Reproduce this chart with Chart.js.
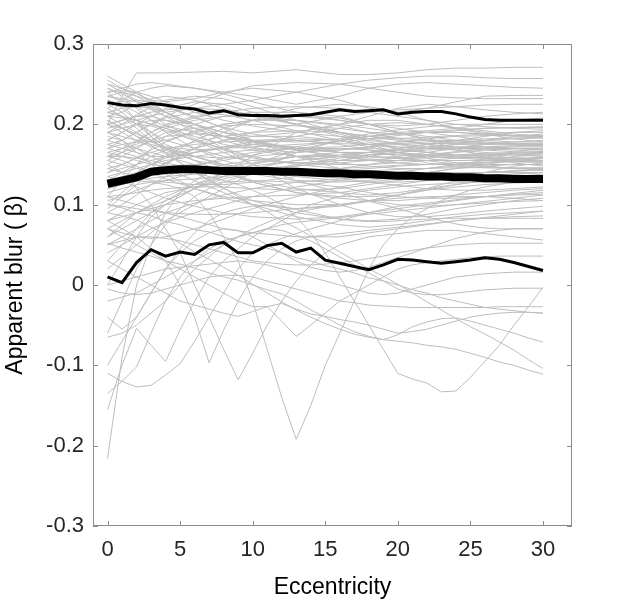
<!DOCTYPE html>
<html>
<head>
<meta charset="utf-8">
<script src="https://cdn.jsdelivr.net/npm/chart.js@4.4.1/dist/chart.umd.min.js"></script>
<style>
html,body{margin:0;padding:0;background:#fff;}
#c{position:absolute;left:0;top:0;}
</style>
</head>
<body>
<canvas id="c" width="633" height="601"></canvas>
<script>
// ---------- DATA ----------
const xTicks = [0, 5, 10, 15, 20, 25, 30];
const yTicks = [-0.3, -0.2, -0.1, 0, 0.1, 0.2, 0.3];
const xLabel = 'Eccentricity';
const yLabel = 'Apparent blur ( \u03B2)';

const ecc = [0,1,2,3,4,5,6,7,8,9,10,11,12,13,14,15,16,17,18,19,20,21,22,23,24,25,26,27,28,29,30];

const upperLine = [0.227,0.224,0.223,0.226,0.224,0.221,0.219,0.214,0.217,0.212,0.211,0.211,0.210,0.211,0.212,0.215,0.218,0.216,0.217,0.218,0.213,0.215,0.216,0.216,0.213,0.209,0.206,0.205,0.205,0.205,0.205];
const meanLine  = [0.126,0.130,0.134,0.141,0.143,0.144,0.144,0.143,0.142,0.142,0.142,0.142,0.141,0.141,0.140,0.139,0.139,0.138,0.138,0.137,0.136,0.136,0.135,0.135,0.134,0.134,0.133,0.133,0.132,0.132,0.132];
const lowerLine = [0.010,0.003,0.028,0.044,0.036,0.041,0.038,0.050,0.053,0.040,0.040,0.049,0.052,0.041,0.046,0.031,0.027,0.023,0.019,0.025,0.032,0.031,0.029,0.027,0.029,0.031,0.034,0.032,0.028,0.023,0.018];

// individual observers, sampled at these eccentricities
const obsX = [0,1,2,3,4,6,8,10,13,16,18,20,22,24,26,28,30];
const observers = [
 [0.200,0.235,0.264,0.264,0.264,0.265,0.266,0.264,0.268,0.262,0.262,0.264,0.268,0.270,0.270,0.271,0.271],
 [0.255,0.245,0.235,0.225,0.215,0.200,0.190,0.180,0.170,0.165,0.160,0.158,0.155,0.150,0.148,0.145,0.145],
 [0.195,0.200,0.205,0.210,0.215,0.220,0.225,0.230,0.240,0.250,0.255,0.258,0.260,0.260,0.258,0.257,0.257],
 [0.240,0.245,0.250,0.252,0.250,0.245,0.240,0.235,0.225,0.235,0.245,0.250,0.252,0.250,0.248,0.246,0.245],
 [0.170,0.180,0.190,0.200,0.210,0.225,0.238,0.248,0.252,0.250,0.245,0.240,0.235,0.233,0.232,0.232,0.232],
 [0.235,0.240,0.235,0.230,0.228,0.232,0.240,0.245,0.240,0.230,0.220,0.215,0.220,0.228,0.235,0.236,0.236],
 [0.220,0.230,0.240,0.245,0.248,0.245,0.238,0.228,0.215,0.205,0.200,0.198,0.200,0.205,0.210,0.213,0.215],
 [0.245,0.238,0.228,0.218,0.210,0.200,0.190,0.185,0.190,0.200,0.210,0.220,0.225,0.222,0.218,0.215,0.213],
 [0.210,0.215,0.225,0.232,0.235,0.230,0.220,0.210,0.200,0.190,0.180,0.175,0.170,0.168,0.165,0.162,0.160],
 [0.180,0.190,0.200,0.210,0.220,0.228,0.225,0.215,0.200,0.190,0.185,0.183,0.180,0.178,0.176,0.175,0.175],
 [0.230,0.225,0.215,0.205,0.198,0.190,0.185,0.180,0.178,0.182,0.188,0.193,0.197,0.200,0.200,0.200,0.200],
 [0.200,0.205,0.210,0.210,0.205,0.195,0.185,0.178,0.170,0.165,0.165,0.168,0.170,0.172,0.172,0.170,0.168],
 [0.190,0.185,0.180,0.178,0.180,0.190,0.200,0.205,0.210,0.205,0.200,0.195,0.190,0.185,0.180,0.178,0.178],
 [0.165,0.170,0.175,0.185,0.195,0.205,0.210,0.210,0.205,0.198,0.190,0.182,0.175,0.168,0.162,0.158,0.155],
 [0.215,0.210,0.200,0.190,0.180,0.170,0.160,0.155,0.152,0.155,0.160,0.165,0.170,0.175,0.180,0.185,0.188],
 [0.150,0.160,0.170,0.180,0.190,0.195,0.198,0.200,0.198,0.195,0.190,0.188,0.190,0.192,0.195,0.196,0.196],
 [0.140,0.150,0.158,0.165,0.170,0.175,0.178,0.180,0.182,0.180,0.175,0.170,0.165,0.160,0.158,0.156,0.155],
 [0.200,0.190,0.180,0.172,0.165,0.160,0.158,0.160,0.165,0.170,0.170,0.168,0.165,0.162,0.160,0.158,0.158],
 [0.175,0.170,0.165,0.160,0.160,0.165,0.172,0.178,0.180,0.175,0.168,0.160,0.152,0.148,0.146,0.145,0.145],
 [0.160,0.165,0.172,0.180,0.185,0.188,0.185,0.178,0.168,0.160,0.155,0.152,0.150,0.150,0.152,0.155,0.158],
 [0.130,0.140,0.150,0.160,0.168,0.178,0.185,0.190,0.192,0.190,0.185,0.180,0.175,0.172,0.170,0.168,0.166],
 [0.225,0.215,0.200,0.185,0.172,0.160,0.150,0.145,0.140,0.142,0.145,0.148,0.150,0.152,0.153,0.153,0.153],
 [0.120,0.130,0.140,0.150,0.158,0.165,0.170,0.172,0.175,0.178,0.182,0.186,0.190,0.193,0.195,0.196,0.197],
 [0.185,0.180,0.170,0.160,0.152,0.145,0.140,0.138,0.140,0.145,0.150,0.155,0.160,0.165,0.168,0.170,0.170],
 [0.170,0.175,0.178,0.175,0.170,0.160,0.150,0.145,0.142,0.140,0.138,0.136,0.135,0.135,0.136,0.138,0.140],
 [0.100,0.115,0.130,0.142,0.152,0.165,0.172,0.175,0.172,0.165,0.160,0.158,0.158,0.160,0.162,0.164,0.165],
 [0.155,0.150,0.145,0.142,0.140,0.140,0.142,0.148,0.155,0.160,0.162,0.163,0.162,0.160,0.158,0.155,0.153],
 [0.230,0.220,0.205,0.190,0.175,0.160,0.148,0.138,0.130,0.128,0.130,0.135,0.140,0.145,0.148,0.150,0.150],
 [0.090,0.100,0.112,0.125,0.135,0.148,0.158,0.165,0.170,0.170,0.168,0.165,0.162,0.160,0.158,0.156,0.155],
 [0.145,0.140,0.135,0.130,0.128,0.125,0.125,0.128,0.135,0.140,0.142,0.144,0.145,0.146,0.146,0.146,0.146],
 [0.210,0.200,0.190,0.180,0.170,0.155,0.140,0.128,0.115,0.108,0.105,0.105,0.108,0.112,0.115,0.118,0.120],
 [0.125,0.128,0.130,0.133,0.135,0.138,0.140,0.140,0.138,0.133,0.128,0.124,0.120,0.118,0.118,0.120,0.122],
 [0.060,0.075,0.090,0.100,0.110,0.125,0.135,0.145,0.155,0.160,0.165,0.170,0.175,0.178,0.180,0.182,0.183],
 [0.110,0.112,0.115,0.118,0.120,0.122,0.122,0.120,0.118,0.120,0.125,0.130,0.135,0.138,0.140,0.142,0.143],
 [0.190,0.180,0.165,0.150,0.138,0.120,0.108,0.100,0.095,0.098,0.105,0.112,0.118,0.122,0.125,0.127,0.128],
 [0.080,0.090,0.100,0.108,0.115,0.122,0.128,0.130,0.128,0.122,0.115,0.110,0.108,0.108,0.110,0.112,0.113],
 [0.240,0.225,0.205,0.185,0.165,0.140,0.120,0.105,0.090,0.082,0.080,0.082,0.088,0.095,0.100,0.105,0.108],
 [0.050,0.060,0.070,0.080,0.090,0.102,0.112,0.120,0.128,0.132,0.135,0.138,0.140,0.140,0.140,0.140,0.140],
 [0.135,0.130,0.122,0.115,0.108,0.098,0.090,0.085,0.082,0.085,0.090,0.095,0.100,0.105,0.110,0.113,0.115],
 [0.100,0.098,0.095,0.092,0.090,0.088,0.088,0.090,0.095,0.100,0.105,0.108,0.110,0.110,0.110,0.108,0.105],
 [0.060,0.070,0.080,0.090,0.100,0.120,0.140,0.160,0.190,0.200,0.205,0.205,0.200,0.195,0.190,0.186,0.183],
 [0.250,0.240,0.230,0.220,0.210,0.190,0.170,0.150,0.120,0.100,0.090,0.085,0.085,0.088,0.092,0.095,0.098],
 [0.020,0.035,0.050,0.065,0.080,0.100,0.120,0.140,0.165,0.180,0.185,0.188,0.190,0.190,0.188,0.186,0.185],
 [0.120,0.125,0.130,0.140,0.150,0.170,0.190,0.205,0.220,0.225,0.222,0.215,0.205,0.195,0.188,0.182,0.178],
 [0.215,0.210,0.205,0.200,0.195,0.180,0.165,0.150,0.130,0.115,0.105,0.100,0.098,0.100,0.102,0.104,0.105],
 [0.170,0.165,0.160,0.152,0.145,0.130,0.115,0.100,0.085,0.075,0.072,0.075,0.080,0.085,0.088,0.090,0.092],
 [0.080,0.085,0.090,0.098,0.105,0.120,0.135,0.150,0.168,0.180,0.185,0.190,0.192,0.195,0.200,0.205,0.208],
 [0.200,0.205,0.210,0.215,0.218,0.220,0.218,0.212,0.200,0.185,0.175,0.165,0.158,0.152,0.148,0.145,0.143],
 [0.140,0.145,0.150,0.155,0.160,0.170,0.180,0.190,0.200,0.210,0.215,0.218,0.220,0.222,0.224,0.225,0.225],
 [0.225,0.228,0.230,0.228,0.222,0.210,0.195,0.180,0.160,0.145,0.138,0.135,0.135,0.137,0.140,0.142,0.143],
 [0.040,0.050,0.060,0.070,0.078,0.090,0.100,0.110,0.122,0.130,0.135,0.140,0.145,0.150,0.155,0.160,0.162],
 [0.160,0.155,0.148,0.140,0.132,0.120,0.110,0.105,0.100,0.100,0.105,0.112,0.120,0.130,0.140,0.148,0.152],
 [0.190,0.195,0.200,0.198,0.192,0.180,0.170,0.160,0.150,0.145,0.140,0.138,0.140,0.145,0.150,0.155,0.160],
 [0.105,0.110,0.118,0.125,0.130,0.140,0.150,0.155,0.160,0.162,0.165,0.170,0.175,0.180,0.185,0.190,0.192],
 [0.245,0.235,0.220,0.205,0.190,0.170,0.155,0.145,0.135,0.130,0.128,0.128,0.130,0.133,0.136,0.138,0.140],
 [0.130,0.135,0.140,0.150,0.160,0.180,0.195,0.205,0.210,0.208,0.200,0.190,0.180,0.170,0.160,0.152,0.148],
 [0.070,0.080,0.090,0.095,0.100,0.105,0.108,0.110,0.112,0.115,0.120,0.125,0.130,0.132,0.134,0.135,0.135],
 [0.180,0.175,0.170,0.165,0.160,0.150,0.140,0.130,0.120,0.115,0.112,0.115,0.120,0.125,0.130,0.133,0.135],
 [0.110,0.105,0.100,0.095,0.090,0.080,0.070,0.065,0.060,0.060,0.065,0.070,0.075,0.080,0.083,0.085,0.086],
 [0.235,0.232,0.228,0.222,0.215,0.200,0.185,0.175,0.168,0.168,0.172,0.178,0.182,0.185,0.186,0.186,0.186],
 [0.260,0.250,0.240,0.228,0.215,0.195,0.180,0.170,0.165,0.168,0.172,0.175,0.176,0.176,0.175,0.174,0.173],
 [0.110,0.130,0.150,0.170,0.185,0.200,0.210,0.215,0.215,0.210,0.200,0.190,0.182,0.176,0.172,0.170,0.168],
 [0.215,0.220,0.222,0.220,0.215,0.200,0.185,0.172,0.160,0.155,0.155,0.158,0.162,0.166,0.170,0.172,0.172],
 [0.175,0.180,0.190,0.200,0.208,0.215,0.212,0.205,0.192,0.180,0.172,0.165,0.160,0.158,0.158,0.158,0.158],
 [0.205,0.195,0.185,0.178,0.172,0.168,0.170,0.175,0.185,0.195,0.200,0.202,0.200,0.196,0.192,0.188,0.185],
 [0.155,0.165,0.178,0.190,0.200,0.210,0.215,0.212,0.200,0.188,0.178,0.170,0.165,0.162,0.162,0.163,0.164],
 [0.220,0.210,0.195,0.180,0.168,0.155,0.148,0.145,0.148,0.155,0.162,0.168,0.172,0.175,0.176,0.176,0.176],
 [0.095,0.110,0.125,0.140,0.152,0.170,0.180,0.185,0.185,0.180,0.175,0.172,0.170,0.170,0.170,0.170,0.170],
 [0.190,0.200,0.212,0.222,0.230,0.235,0.232,0.222,0.205,0.190,0.182,0.176,0.172,0.170,0.168,0.166,0.165],
 [0.250,0.245,0.238,0.230,0.222,0.208,0.196,0.188,0.180,0.176,0.175,0.176,0.178,0.180,0.182,0.183,0.184],
 [0.145,0.150,0.158,0.168,0.178,0.192,0.200,0.205,0.205,0.200,0.195,0.190,0.185,0.180,0.177,0.175,0.174],
 [0.235,0.230,0.222,0.212,0.200,0.182,0.168,0.158,0.152,0.150,0.150,0.152,0.155,0.158,0.160,0.162,0.163],
 [0.165,0.160,0.155,0.150,0.148,0.150,0.155,0.162,0.172,0.180,0.185,0.188,0.190,0.190,0.188,0.186,0.185],
 [0.180,0.190,0.200,0.205,0.205,0.200,0.190,0.180,0.168,0.160,0.158,0.160,0.165,0.170,0.175,0.178,0.180],
 [0.030,0.050,0.070,0.090,0.105,0.125,0.140,0.150,0.160,0.165,0.165,0.162,0.160,0.158,0.156,0.154,0.153],
 [0.000,0.030,0.060,0.085,0.100,0.120,0.132,0.140,0.148,0.152,0.155,0.158,0.160,0.162,0.164,0.165,0.166],
 [0.070,0.065,0.060,0.058,0.060,0.070,0.082,0.095,0.110,0.122,0.128,0.132,0.135,0.138,0.140,0.142,0.143],
 [0.200,0.195,0.188,0.180,0.170,0.155,0.140,0.128,0.115,0.110,0.110,0.112,0.118,0.125,0.130,0.135,0.138],
 [0.160,0.170,0.180,0.190,0.198,0.208,0.215,0.220,0.222,0.220,0.215,0.210,0.205,0.200,0.197,0.195,0.194],
 [0.210,0.208,0.205,0.200,0.195,0.185,0.175,0.168,0.160,0.152,0.148,0.145,0.145,0.148,0.152,0.156,0.158],
 [0.240,0.242,0.240,0.235,0.228,0.215,0.205,0.198,0.190,0.185,0.182,0.182,0.184,0.186,0.188,0.190,0.190],
 [0.135,0.140,0.145,0.150,0.155,0.160,0.165,0.168,0.170,0.172,0.175,0.178,0.180,0.180,0.178,0.176,0.175],
 [0.115,0.120,0.125,0.128,0.130,0.132,0.135,0.140,0.150,0.158,0.162,0.165,0.168,0.170,0.172,0.173,0.174]
];

// observers with irregular curves, sampled at every eccentricity (ecc)
const irregular = [
 [0.120,0.125,0.130,0.128,0.125,0.120,0.110,0.090,0.060,0.030,-0.020,-0.080,-0.140,-0.192,-0.150,-0.100,-0.060,-0.020,0.020,0.050,0.070,0.085,0.095,0.105,0.112,0.118,0.122,0.125,0.128,0.130,0.132],
 [0.160,0.160,0.158,0.155,0.150,0.145,0.140,0.135,0.130,0.125,0.118,0.110,0.100,0.085,0.065,0.040,0.010,-0.020,-0.050,-0.080,-0.110,-0.117,-0.122,-0.133,-0.132,-0.115,-0.095,-0.075,-0.050,-0.027,-0.003],
 [0.090,0.086,0.081,0.072,0.063,0.052,0.041,0.032,0.022,0.012,0.001,-0.010,-0.021,-0.031,-0.040,-0.048,-0.055,-0.061,-0.065,-0.068,-0.070,-0.072,-0.075,-0.077,-0.080,-0.085,-0.090,-0.096,-0.100,-0.106,-0.111],
 [0.205,0.196,0.185,0.174,0.163,0.152,0.141,0.131,0.121,0.110,0.100,0.091,0.080,0.071,0.061,0.052,0.041,0.031,0.020,0.011,0.001,-0.010,-0.021,-0.031,-0.042,-0.052,-0.061,-0.071,-0.081,-0.093,-0.104],
 [0.052,0.046,0.041,0.036,0.030,0.026,0.021,0.015,0.010,0.006,0.000,-0.006,-0.011,-0.020,-0.031,-0.040,-0.050,-0.058,-0.064,-0.068,-0.062,-0.052,-0.046,-0.042,-0.041,-0.045,-0.050,-0.055,-0.060,-0.066,-0.071],
 [-0.216,-0.090,0.000,0.050,0.090,0.115,0.130,0.140,0.145,0.150,0.152,0.155,0.157,0.160,0.160,0.160,0.160,0.158,0.156,0.155,0.155,0.155,0.155,0.155,0.155,0.155,0.155,0.155,0.155,0.155,0.155],
 [-0.155,-0.100,-0.054,-0.075,-0.095,-0.056,-0.020,0.010,0.030,0.045,0.060,0.070,0.080,0.090,0.100,0.105,0.110,0.115,0.118,0.120,0.122,0.124,0.125,0.126,0.127,0.128,0.128,0.128,0.128,0.128,0.128],
 [-0.135,-0.120,-0.102,-0.060,-0.020,0.010,0.030,0.045,0.055,0.060,0.065,0.070,0.075,0.078,0.080,0.082,0.084,0.086,0.088,0.090,0.092,0.094,0.096,0.098,0.100,0.102,0.104,0.106,0.108,0.110,0.112],
 [-0.110,-0.120,-0.127,-0.125,-0.112,-0.098,-0.070,-0.040,-0.010,0.020,0.040,0.050,0.058,0.064,0.070,0.075,0.080,0.085,0.090,0.094,0.098,0.100,0.102,0.104,0.106,0.108,0.110,0.112,0.114,0.116,0.118],
 [0.080,0.070,0.060,0.045,0.030,0.000,-0.040,-0.097,-0.056,-0.020,0.010,0.030,0.045,0.055,0.060,0.062,0.064,0.066,0.068,0.070,0.072,0.074,0.076,0.078,0.080,0.082,0.084,0.086,0.088,0.090,0.092],
 [0.150,0.140,0.120,0.100,0.070,0.040,0.000,-0.040,-0.080,-0.118,-0.085,-0.050,-0.020,0.005,0.025,0.040,0.050,0.055,0.060,0.062,0.064,0.066,0.068,0.068,0.068,0.066,0.064,0.062,0.060,0.058,0.056],
 [0.030,0.020,0.010,0.000,-0.010,-0.020,-0.025,-0.030,-0.035,-0.039,-0.033,-0.027,-0.023,-0.030,-0.036,-0.039,-0.043,-0.046,-0.050,-0.055,-0.060,-0.058,-0.055,-0.050,-0.045,-0.040,-0.037,-0.035,-0.034,-0.034,-0.035],
 [0.070,0.060,0.050,0.040,0.030,0.020,0.010,0.000,-0.010,-0.020,-0.027,-0.027,-0.045,-0.064,-0.050,-0.035,-0.020,-0.010,0.000,0.010,0.020,0.025,0.028,0.030,0.032,0.034,0.035,0.036,0.036,0.036,0.036],
 [0.000,0.005,0.010,0.015,0.020,0.022,0.024,0.026,0.028,0.030,0.028,0.025,0.020,0.015,0.010,0.005,0.000,-0.005,-0.010,-0.012,-0.010,-0.005,0.000,0.005,0.010,0.012,0.014,0.015,0.016,0.016,0.016],
 [-0.020,-0.015,-0.010,0.000,0.010,0.020,0.030,0.040,0.050,0.060,0.065,0.070,0.068,0.062,0.055,0.045,0.035,0.025,0.015,0.005,-0.005,-0.010,-0.012,-0.012,-0.010,-0.008,-0.006,-0.005,-0.004,-0.004,-0.004],
 [-0.005,-0.010,-0.012,-0.010,-0.005,0.000,0.005,0.010,0.012,0.012,0.010,0.005,0.000,-0.005,-0.010,-0.015,-0.020,-0.022,-0.025,-0.026,-0.027,-0.028,-0.028,-0.028,-0.028,-0.028,-0.028,-0.027,-0.027,-0.027,-0.027],
 [0.050,0.055,0.060,0.060,0.058,0.055,0.050,0.045,0.040,0.035,0.030,0.028,0.026,0.025,0.025,0.026,0.028,0.030,0.033,0.036,0.040,0.043,0.046,0.048,0.050,0.051,0.052,0.052,0.052,0.052,0.052],
 [0.100,0.096,0.090,0.086,0.079,0.075,0.069,0.066,0.060,0.054,0.050,0.046,0.040,0.034,0.030,0.024,0.020,0.015,0.009,0.005,0.000,-0.006,-0.010,-0.016,-0.020,-0.024,-0.028,-0.030,-0.032,-0.034,-0.035],
 [-0.065,-0.060,-0.050,-0.035,-0.020,0.000,0.020,0.035,0.050,0.060,0.070,0.078,0.085,0.090,0.094,0.097,0.100,0.102,0.104,0.100,0.095,0.090,0.085,0.080,0.076,0.073,0.071,0.070,0.070,0.070,0.070],
 [-0.100,-0.070,-0.040,-0.010,0.020,0.045,0.065,0.080,0.090,0.095,0.098,0.100,0.098,0.094,0.090,0.086,0.082,0.080,0.079,0.079,0.080,0.081,0.082,0.083,0.083,0.083,0.083,0.083,0.083,0.083,0.083],
 [-0.060,-0.020,0.020,0.050,0.075,0.095,0.110,0.120,0.128,0.134,0.138,0.140,0.141,0.142,0.143,0.144,0.145,0.146,0.147,0.148,0.149,0.150,0.150,0.150,0.150,0.150,0.150,0.150,0.150,0.150,0.150],
 [-0.040,-0.055,-0.040,-0.010,0.020,0.040,0.055,0.065,0.070,0.068,0.060,0.050,0.040,0.030,0.022,0.018,0.016,0.018,0.022,0.028,0.034,0.040,0.046,0.052,0.058,0.062,0.066,0.068,0.070,0.070,0.070]
];

// ---------- CHART ----------
const grey = '#bdbdbd';
const datasets = [];
datasets.push({data: ecc.map((x,i)=>({x, y: upperLine[i]})), borderColor:'#000', borderWidth:3, order:0});
datasets.push({data: ecc.map((x,i)=>({x, y: meanLine[i]})), borderColor:'#000', borderWidth:8, order:0});
datasets.push({data: ecc.map((x,i)=>({x, y: lowerLine[i]})), borderColor:'#000', borderWidth:3, order:0});
observers.forEach(arr => datasets.push({data: obsX.map((x,i)=>({x, y: arr[i]})), borderColor: grey, borderWidth:1, order:1}));
irregular.forEach(arr => datasets.push({data: ecc.map((x,i)=>({x, y: arr[i]})), borderColor: grey, borderWidth:1, order:1}));

const boxPlugin = {
  id: 'box',
  afterDatasetsDraw(chart) {
    const {ctx, chartArea: a, scales: {x, y}} = chart;
    ctx.save();
    ctx.strokeStyle = '#8c8c8c';
    ctx.lineWidth = 1;
    ctx.strokeRect(Math.round(a.left)+0.5, Math.round(a.top)+0.5, Math.round(a.right-a.left)-1, Math.round(a.bottom-a.top)-1);
    ctx.beginPath();
    xTicks.forEach(v => {
      const p = Math.round(x.getPixelForValue(v)) + 0.5;
      ctx.moveTo(p, a.bottom); ctx.lineTo(p, a.bottom - 5);
      ctx.moveTo(p, a.top); ctx.lineTo(p, a.top + 5);
    });
    yTicks.forEach(v => {
      const p = Math.round(y.getPixelForValue(v)) + 0.5;
      ctx.moveTo(a.left, p); ctx.lineTo(a.left + 5, p);
      ctx.moveTo(a.right, p); ctx.lineTo(a.right - 5, p);
    });
    ctx.stroke();
    ctx.restore();
  }
};

const tickFont = {family: '"Liberation Sans", Arial, Helvetica, sans-serif', size: 22};
const titleFont = {family: '"Liberation Sans", Arial, Helvetica, sans-serif', size: 23};

new Chart(document.getElementById('c'), {
  type: 'line',
  data: {datasets},
  options: {
    responsive: false,
    animation: false,
    events: [],
    layout: {padding: {left: 0, right: 61, top: 44, bottom: 0}},
    elements: {point: {radius: 0}, line: {tension: 0, borderCapStyle: 'butt', borderJoinStyle: 'miter'}},
    plugins: {legend: {display: false}, tooltip: {enabled: false}},
    scales: {
      x: {
        type: 'linear', min: -1, max: 32,
        grid: {display: false, drawTicks: false},
        border: {display: false},
        afterBuildTicks: s => { s.ticks = xTicks.map(v => ({value: v})); },
        afterFit: s => { s.height = 75; },
        ticks: {color: '#262626', font: tickFont, padding: 11, maxRotation: 0, autoSkip: false,
                callback: v => String(v)},
        title: {display: true, text: xLabel, color: '#000', font: titleFont, padding: {top: 2, bottom: 0}}
      },
      y: {
        type: 'linear', min: -0.3, max: 0.3,
        grid: {display: false, drawTicks: false},
        border: {display: false},
        afterBuildTicks: s => { s.ticks = yTicks.map(v => ({value: v})); },
        afterFit: s => { s.width = 93; },
        ticks: {color: '#262626', font: tickFont, padding: 9, autoSkip: false,
                callback: v => String(Math.round(v * 10) / 10)},
        title: {display: true, text: yLabel, color: '#000', font: titleFont, padding: {top: 2, bottom: 2}}
      }
    }
  },
  plugins: [boxPlugin]
});
</script>
</body>
</html>
